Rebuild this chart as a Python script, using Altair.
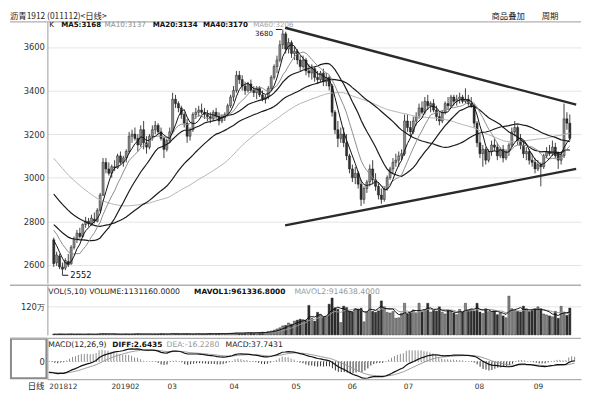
import altair as alt
import pandas as pd

TITLE = "沥青1912 (011112)<日线>"
# closes before the first visible day (feed the moving averages and MACD only)
PRE_CLOSE = [3540, 3560, 3530, 3500, 3520, 3490, 3470, 3480, 3450, 3430,
             3440, 3410, 3390, 3400, 3370, 3350, 3360, 3330, 3310, 3300,
             3280, 3250, 3230, 3200, 3180, 3150, 3160, 3120, 3100, 3080,
             3060, 3040, 3050, 3010, 2990, 2970, 2980, 2950, 2930, 2920,
             2900, 2880, 2850, 2830, 2820, 2800, 2790, 2780, 2770, 2780,
             2800, 2820, 2830, 2810, 2790, 2780, 2760, 2740, 2720, 2730]

OPEN = [2715, 2610, 2640, 2590, 2585, 2615, 2605, 2680, 2715, 2745,
        2730, 2785, 2800, 2790, 2810, 2800, 2850, 2920, 3070, 3040,
        3020, 3050, 3045, 3100, 3070, 3090, 3120, 3190, 3200, 3180,
        3150, 3220, 3160, 3140, 3190, 3220, 3240, 3210, 3180, 3130,
        3170, 3210, 3360, 3340, 3320, 3290, 3250, 3190, 3220, 3290,
        3300, 3310, 3300, 3290, 3280, 3270, 3300, 3280, 3260, 3275,
        3290, 3330, 3370, 3400, 3470, 3450, 3420, 3400, 3430, 3400,
        3390, 3410, 3380, 3360, 3370, 3410, 3460, 3510, 3540, 3610,
        3660, 3590, 3620, 3570, 3580, 3540, 3510, 3540, 3490, 3480,
        3500, 3460, 3450, 3480, 3440, 3460, 3420, 3300, 3220, 3180,
        3200, 3160, 3100, 3040, 3000, 3020, 2970, 2900, 2950, 2980,
        3040, 2990, 2960, 2920, 2900, 2950, 3000, 3040, 3070, 3080,
        3100, 3110, 3260, 3230, 3210, 3260, 3280, 3320, 3300, 3350,
        3330, 3340, 3310, 3280, 3260, 3300, 3340, 3330, 3370, 3350,
        3360, 3370, 3350, 3360, 3340, 3330, 3250, 3160, 3110, 3130,
        3080, 3120, 3150, 3140, 3100, 3130, 3090, 3120, 3150, 3210,
        3230, 3170, 3150, 3110, 3120, 3080, 3070, 3040, 3060, 3050,
        3100, 3120, 3110, 3140, 3110, 3080, 3100, 3270, 3250]
HIGH = [2725, 2660, 2650, 2610, 2630, 2650, 2690, 2730, 2760, 2770,
        2790, 2820, 2815, 2830, 2840, 2860, 2930, 3090, 3090, 3070,
        3060, 3080, 3110, 3120, 3100, 3130, 3210, 3220, 3230, 3200,
        3240, 3260, 3190, 3200, 3240, 3260, 3250, 3230, 3190, 3180,
        3230, 3390, 3380, 3350, 3330, 3300, 3270, 3230, 3300, 3320,
        3330, 3340, 3320, 3310, 3300, 3310, 3320, 3300, 3290, 3300,
        3340, 3380, 3420, 3490, 3490, 3470, 3440, 3440, 3450, 3420,
        3420, 3420, 3400, 3380, 3420, 3470, 3520, 3560, 3630, 3680,
        3670, 3640, 3630, 3600, 3590, 3560, 3560, 3550, 3520, 3520,
        3510, 3490, 3490, 3500, 3480, 3470, 3430, 3310, 3260, 3230,
        3230, 3200, 3110, 3060, 3050, 3030, 2990, 2960, 2990, 3060,
        3080, 3020, 2980, 2950, 2960, 3010, 3050, 3090, 3110, 3120,
        3130, 3290, 3290, 3260, 3280, 3300, 3340, 3350, 3370, 3380,
        3350, 3360, 3330, 3300, 3310, 3350, 3370, 3380, 3380, 3380,
        3390, 3380, 3410, 3380, 3370, 3340, 3260, 3200, 3150, 3140,
        3130, 3170, 3180, 3160, 3140, 3150, 3130, 3160, 3230, 3260,
        3240, 3200, 3170, 3140, 3130, 3110, 3090, 3080, 3070, 3110,
        3140, 3150, 3170, 3160, 3120, 3120, 3340, 3300, 3290]
LOW = [2590, 2595, 2580, 2552, 2575, 2590, 2600, 2670, 2700, 2720,
       2725, 2770, 2775, 2780, 2790, 2795, 2840, 2915, 3020, 3010,
       3000, 3030, 3040, 3060, 3050, 3070, 3110, 3160, 3170, 3120,
       3140, 3130, 3110, 3130, 3170, 3200, 3200, 3170, 3090, 3120,
       3160, 3200, 3320, 3300, 3270, 3230, 3160, 3170, 3210, 3270,
       3280, 3290, 3270, 3260, 3250, 3260, 3270, 3240, 3250, 3260,
       3280, 3320, 3350, 3390, 3430, 3400, 3380, 3390, 3390, 3370,
       3360, 3370, 3350, 3340, 3360, 3400, 3450, 3480, 3530, 3590,
       3570, 3570, 3550, 3540, 3520, 3490, 3500, 3470, 3460, 3450,
       3440, 3430, 3440, 3420, 3420, 3400, 3280, 3200, 3140, 3160,
       3140, 3080, 3020, 2980, 2970, 2950, 2870, 2880, 2930, 2960,
       2970, 2940, 2900, 2880, 2890, 2940, 2990, 3020, 3050, 3050,
       3080, 3100, 3210, 3190, 3200, 3240, 3270, 3290, 3290, 3310,
       3300, 3300, 3260, 3240, 3250, 3290, 3310, 3320, 3330, 3330,
       3340, 3340, 3340, 3330, 3320, 3230, 3140, 3090, 3050, 3060,
       3070, 3100, 3120, 3080, 3090, 3070, 3080, 3100, 3140, 3190,
       3150, 3130, 3090, 3080, 3060, 3050, 3020, 3030, 2960, 3040,
       3090, 3100, 3100, 3090, 3040, 3060, 3090, 3220, 3170]
CLOSE = [2605, 2645, 2590, 2580, 2620, 2600, 2680, 2720, 2745, 2730,
         2785, 2800, 2790, 2815, 2800, 2850, 2920, 3070, 3040, 3020,
         3050, 3045, 3100, 3070, 3090, 3120, 3190, 3200, 3180, 3150,
         3220, 3160, 3140, 3190, 3220, 3240, 3210, 3180, 3130, 3170,
         3210, 3360, 3340, 3320, 3290, 3250, 3190, 3220, 3290, 3300,
         3310, 3300, 3290, 3280, 3270, 3300, 3280, 3260, 3275, 3290,
         3330, 3370, 3400, 3470, 3450, 3420, 3400, 3430, 3400, 3390,
         3410, 3380, 3360, 3370, 3410, 3460, 3510, 3540, 3610, 3660,
         3590, 3620, 3570, 3580, 3540, 3510, 3540, 3490, 3480, 3500,
         3460, 3450, 3480, 3440, 3460, 3420, 3300, 3220, 3180, 3200,
         3160, 3100, 3040, 3000, 3020, 2970, 2900, 2950, 2980, 3040,
         2990, 2960, 2920, 2900, 2950, 3000, 3040, 3070, 3080, 3100,
         3110, 3260, 3230, 3210, 3260, 3280, 3320, 3300, 3350, 3330,
         3340, 3310, 3280, 3260, 3300, 3340, 3330, 3370, 3350, 3360,
         3370, 3350, 3360, 3340, 3330, 3250, 3160, 3110, 3130, 3080,
         3120, 3150, 3140, 3100, 3130, 3090, 3120, 3150, 3210, 3230,
         3170, 3150, 3110, 3120, 3080, 3070, 3040, 3060, 3050, 3100,
         3120, 3110, 3140, 3100, 3080, 3100, 3270, 3250, 3180]
# volume in 万 (10 000 lots)
VOLUME = [3, 2, 4, 3, 2, 3, 4, 2, 3, 3, 2, 3, 4, 3, 2, 3, 5, 6, 4, 3,
          3, 4, 3, 2, 3, 4, 3, 3, 4, 5, 4, 3, 3, 4, 3, 4, 3, 5, 4, 3,
          4, 6, 5, 4, 3, 4, 5, 4, 3, 4, 5, 4, 4, 5, 6, 5, 4, 5, 6, 5,
          6, 7, 8, 9, 8, 7, 8, 9, 10, 8, 9, 10, 12, 11, 14, 16, 20, 25, 30, 38,
          40, 50, 45, 58, 62, 66, 64, 60, 124, 70, 58, 95, 85, 76, 78,
          129, 155, 114, 108, 52, 121, 115, 99, 96, 111, 108, 112, 55, 96, 170,
          99, 95, 101, 143, 118, 95, 92, 98, 70, 72, 92, 133, 88, 95, 105,
          90, 133, 98, 106, 133, 96, 104, 100, 118, 95, 88, 105, 100, 92, 85,
          107, 96, 133, 104, 106, 100, 133, 96, 90, 110, 98, 99, 101, 85, 92,
          80, 72, 163, 110, 105, 100, 96, 121, 110, 98, 102, 108, 118, 110, 88,
          84, 80, 76, 99, 70, 120, 96, 82, 113]

MONTH_IDX = [0, 21, 40, 61, 82, 101, 120, 144, 164]
MONTH_LBL = ["201812", "201902", "03", "04", "05", "06", "07", "08", "09"]
PRICE_TICKS = [2600, 2800, 3000, 3200, 3400, 3600]
TREND_I = [79.8, 180.2]
TREND_TOP = [3688, 3335]
TREND_BOTTOM = [2781, 3040]

# ---------------------------------------------------------------- data table
n = len(CLOSE)
k = len(PRE_CLOSE)
allc = pd.Series(PRE_CLOSE + CLOSE, dtype=float)
e12 = allc.ewm(span=12, adjust=False).mean()
e26 = allc.ewm(span=26, adjust=False).mean()
dif = e12 - e26
dea = dif.ewm(span=9, adjust=False).mean()
hist = 2 * (dif - dea)
vol = pd.Series(VOLUME, dtype=float)

df = pd.DataFrame({
    "i": list(range(n)), "o": OPEN, "h": HIGH, "l": LOW, "c": CLOSE,
    "v": VOLUME,
    "dir": ["up" if c >= o else "down" for o, c in zip(OPEN, CLOSE)],
})
for m in (5, 10, 20, 40, 60):
    df[f"ma{m}"] = allc.rolling(m).mean().iloc[k:].values
df["mv5"] = vol.rolling(5, min_periods=1).mean().values
df["mv10"] = vol.rolling(10, min_periods=1).mean().values
df["dif"] = dif.iloc[k:].values
df["dea"] = dea.iloc[k:].values
df["macd"] = hist.iloc[k:].values
df["zero"] = 0.0
df["msign"] = ["p" if v >= 0 else "n" for v in df["macd"]]

trend = pd.DataFrame({"i": TREND_I * 2, "p": TREND_TOP + TREND_BOTTOM,
                      "g": ["top", "top", "bot", "bot"]})
hi_i = HIGH.index(max(HIGH))
lo_i = LOW.index(min(LOW))
ann_hi = pd.DataFrame({"i": [hi_i], "a": [hi_i - 2.4], "b": [hi_i - 0.3],
                       "p": [max(HIGH)], "t": [str(max(HIGH))]})
ann_lo = pd.DataFrame({"i": [lo_i], "a": [lo_i], "b": [lo_i + 2.0],
                       "p": [min(LOW)], "t": [str(min(LOW))]})
one = pd.DataFrame({"k": [0]})

# ---------------------------------------------------------------- layout
W = 542
Y3600 = 25.5          # y of the 3600 gridline inside the price panel
H1, H2, H3 = 265.5, 51, 42
FONT = "DejaVu Sans"
CJK = "Noto Sans CJK SC"
PXU = 0.2213  # px per price unit
xs = alt.Scale(domain=[-0.5, 180.17], nice=False, zero=False)
X = alt.X("i:Q", scale=xs, axis=None)


def txt(s, x, y, size=8, color="#111", bold=False, align="left", font=FONT):
    return alt.Chart(one).mark_text(
        text=s, align=align, baseline="middle", fontSize=size, color=color,
        fontWeight="bold" if bold else "normal", font=font,
    ).encode(x=alt.value(x), y=alt.value(y))


def hline(x1, x2, y, color="#aaaaaa", w=1.0):
    return alt.Chart(one).mark_rule(color=color, strokeWidth=w).encode(
        x=alt.value(x1), x2=alt.value(x2), y=alt.value(y))


def yaxis(values, expr=None):
    kw = dict(values=values, title=None, grid=True, gridColor="#e4e4e4", format="d",
              tickSize=0, labelPadding=3, labelFontSize=8.5, labelColor="#333333",
              labelFont=FONT, domainColor="#9a9a9a", minExtent=38, maxExtent=38)
    if expr:
        kw["labelExpr"] = expr
    return alt.Axis(**kw)


dir_color = alt.Color("dir:N", scale=alt.Scale(domain=["up", "down"],
                                               range=["#8a8a8a", "#303030"]),
                      legend=None)

# ---- main price panel
y2600 = Y3600 + 1000 * PXU
ys = alt.Scale(domain=[2600 - (H1 - y2600) / PXU, 3600 + Y3600 / PXU], nice=False, zero=False)
yax = yaxis(PRICE_TICKS)
Yp = lambda f: alt.Y(f, scale=ys, axis=yax, title=None)

wick = alt.Chart(df).mark_rule(color="#111111", strokeWidth=0.8).encode(
    x=X, y=Yp("l:Q"), y2="h:Q")
body = alt.Chart(df).mark_bar(size=2.2, stroke="#111111", strokeWidth=0.4).encode(
    x=X, y=Yp("o:Q"), y2="c:Q", color=dir_color)


def ma_line(col, color, w):
    return alt.Chart(df).mark_line(color=color, strokeWidth=w).encode(x=X, y=Yp(f"{col}:Q"))


mas = [ma_line("ma60", "#b4b4b4", 1.0), ma_line("ma40", "#1a1a1a", 1.2),
       ma_line("ma20", "#1a1a1a", 1.2), ma_line("ma10", "#8c8c8c", 1.0),
       ma_line("ma5", "#111111", 1.0)]
tl = alt.Chart(trend).mark_line(color="#2a2a2a", strokeWidth=2.4).encode(
    x=X, y=Yp("p:Q"), detail="g:N")
hi_txt = alt.Chart(ann_hi).mark_text(align="right", baseline="middle", dx=-10, dy=4.5,
                                     fontSize=7.2, font=FONT, color="#111").encode(
    x=X, y=Yp("p:Q"), text="t:N")
hi_lead = alt.Chart(ann_hi).mark_rule(color="#111", strokeWidth=1).encode(
    x=alt.X("a:Q", scale=xs, axis=None), x2="b:Q", y=Yp("p:Q"))
lo_txt = alt.Chart(ann_lo).mark_text(align="left", baseline="middle", dx=8,
                                     fontSize=8.5, font=FONT, color="#111").encode(
    x=X, y=Yp("p:Q"), text="t:N")
lo_lead = alt.Chart(ann_lo).mark_rule(color="#111", strokeWidth=1).encode(
    x=alt.X("a:Q", scale=xs, axis=None), x2="b:Q", y=Yp("p:Q"))

LG = 3.4
main = alt.layer(
    wick, body, *mas, tl, hi_lead, hi_txt, lo_lead, lo_txt,
    hline(-38, W, 0, "#b0b0b0", 1.2),
    txt(TITLE, -38, -6, size=8.5, font=CJK, color="#222"),
    txt("商品叠加", 451, -6, size=8.5, font=CJK, color="#222"),
    txt("周期", 502, -6, size=8.5, font=CJK, color="#222"),
    txt("K", 2, LG, size=7.3, color="#111"),
    txt("MA5:3168", 14, LG, size=7.2, bold=True),
    txt("MA10:3137", 58, LG, size=7.4, color="#8c8c8c"),
    txt("MA20:3134", 107, LG, size=7.2, bold=True),
    txt("MA40:3170", 158, LG, size=7.2, bold=True),
    txt("MA60:3206", 209, LG, size=7.2, color="#a8a8a8"),
).properties(width=W, height=H1)

# ---- volume panel
vs = alt.Scale(domain=[0, H2 / (29 / 120)], nice=False, zero=True)
vax = yaxis([120], "'120万'")
Yv = lambda f: alt.Y(f, scale=vs, axis=vax, title=None)
vbars = alt.Chart(df).mark_bar(size=2.2, stroke="#111111", strokeWidth=0.4).encode(
    x=X, y=Yv("v:Q"), color=dir_color)
mv5 = alt.Chart(df).mark_line(color="#111111", strokeWidth=1).encode(x=X, y=Yv("mv5:Q"))
mv10 = alt.Chart(df).mark_line(color="#9a9a9a", strokeWidth=1).encode(x=X, y=Yv("mv10:Q"))
volp = alt.layer(
    vbars, mv10, mv5,
    hline(-38, W, 0.5, "#b0b0b0", 1.5),
    txt("VOL(5,10) VOLUME:1131160.0000", 1, 7, size=7.8, color="#222"),
    txt("MAVOL1:961336.8000", 149, 7, size=7.5, bold=True),
    txt("MAVOL2:914638.4000", 251, 7, size=7.8, color="#999999"),
).properties(width=W, height=H2)

# ---- MACD panel
vals = pd.concat([df["dif"], df["dea"], df["macd"]])
spx = max(-vals.min() / 17.0, vals.max() / 22.0)
ms = alt.Scale(domain=[-18 * spx, 24 * spx], nice=False, zero=False)
max_ = alt.Axis(values=[0], title=None, grid=False, tickSize=0, labelPadding=3,
                labelFontSize=8.5, labelColor="#333333", labelFont=FONT,
                domainColor="#9a9a9a", minExtent=38, maxExtent=38)
expr = " : ".join(f"datum.value == {v} ? '{t}'" for v, t in zip(MONTH_IDX, MONTH_LBL)) + " : ''"
xax = alt.Axis(values=MONTH_IDX, labelExpr=expr, title=None, tickSize=0, labelPadding=3,
               labelAlign="left", labelFontSize=7.5, labelColor="#333333", labelFont=FONT,
               domainColor="#9a9a9a", grid=False, labelFlush=False, labelOverlap=False)
Xm = alt.X("i:Q", scale=xs, axis=xax, title=None)
Ym = lambda f: alt.Y(f, scale=ms, axis=max_, title=None)
zline = alt.Chart(df).mark_line(color="#888888", strokeWidth=0.8, strokeDash=[1, 2]).encode(
    x=Xm, y=Ym("zero:Q"))
hbars = alt.Chart(df).mark_rule(strokeWidth=1).encode(
    x=Xm, y=Ym("zero:Q"), y2="macd:Q",
    color=alt.Color("msign:N", scale=alt.Scale(domain=["p", "n"], range=["#333333", "#777777"]),
                    legend=None))
dea_l = alt.Chart(df).mark_line(color="#9a9a9a", strokeWidth=1).encode(x=Xm, y=Ym("dea:Q"))
dif_l = alt.Chart(df).mark_line(color="#111111", strokeWidth=1.2).encode(x=Xm, y=Ym("dif:Q"))
box = alt.Chart(one).mark_rect(fill="transparent", stroke="#8a8a8a", strokeWidth=2).encode(
    x=alt.value(-37), x2=alt.value(-1), y=alt.value(1), y2=alt.value(H3 - 1))
macdp = alt.layer(
    zline, hbars, dea_l, dif_l, box,
    hline(-38, W, 0.5, "#b0b0b0", 1.2),
    txt("MACD(12,26,9)", 1, 7, size=7.8, color="#222"),
    txt("DIFF:2.6435", 66, 7, size=7.5, bold=True),
    txt("DEA:-16.2280", 121, 7, size=7.8, color="#999999"),
    txt("MACD:37.7431", 181, 7, size=7.8, color="#222"),
    txt("日线", -3, H3 + 7, size=8.5, font=CJK, color="#222", align="right"),
).properties(width=W, height=H3)

chart = alt.vconcat(main, volp, macdp, spacing=0).properties(padding=0).configure_view(
    stroke="transparent")

chart.save("out.html", embed_options={"renderer": "svg", "actions": False})
